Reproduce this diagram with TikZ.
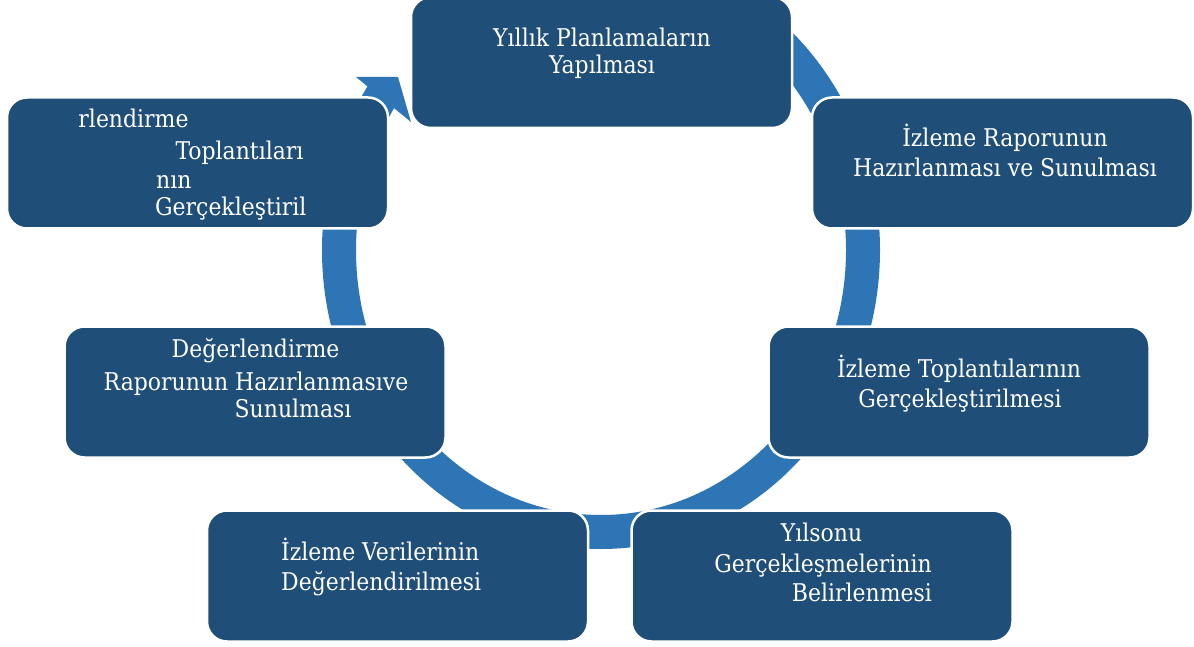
\documentclass[tikz,border=0pt]{standalone}
\usepackage{fontspec}
\setmainfont{DejaVu Serif Condensed}
\definecolor{boxblue}{HTML}{1F4E79}
\definecolor{ringblue}{HTML}{2E75B6}
\begin{document}
\begin{tikzpicture}[x=1pt,y=-1pt,
  stepbox/.style={draw=white, line width=2.5pt, fill=boxblue, rounded corners=20pt,
    minimum width=381pt, minimum height=131pt, inner sep=0pt, outer sep=0pt},
  lbl/.style={text=white, font=\fontsize{24.4}{29}\selectfont, inner sep=0pt, anchor=base},
]
\useasboundingbox (0,0) rectangle (1194,647);
\fill[white] (0,0) rectangle (1194,647);
\begin{scope}
\clip (0,0) rectangle (1194,647);
% cycle ring and arrowhead
\draw[ringblue, line width=34pt] (601,250) ++(-90:262 and 282)
  arc[start angle=-90, end angle=213.5, x radius=262, y radius=282];
\fill[ringblue] (356,77) -- (398,77) -- (411,122) -- cycle;
% boxes
\node[stepbox] (b1) at (601.5,62.5) {};
\node[stepbox] (b2) at (1002.5,163) {};
\node[stepbox] (b3) at (959,392) {};
\node[stepbox] (b4) at (822,576) {};
\node[stepbox] (b5) at (397.5,576) {};
\node[stepbox] (b6) at (255,392) {};
\node[stepbox] (b7) at (197.5,163) {};
\end{scope}
% texts
\node[lbl] (t1a) at (602,47) {Yıllık Planlamaların};
\node[lbl] (t1b) at (602,74) {Yapılması};
\node[lbl] (t2a) at (1005,147) {İzleme Raporunun};
\node[lbl] (t2b) at (1005,177) {Hazırlanması ve Sunulması};
\node[lbl] (t3a) at (959,377) {İzleme Toplantılarının};
\node[lbl] (t3b) at (960,407) {Gerçekleştirilmesi};
\node[lbl] (t4a) at (821.5,541) {Yılsonu};
\node[lbl] (t4b) at (823,572) {Gerçekleşmelerinin};
\node[lbl, anchor=base east] (t4c) at (932,601) {Belirlenmesi};
\node[lbl, anchor=base west] (t5a) at (281,560) {İzleme Verilerinin};
\node[lbl, anchor=base west] (t5b) at (281,590) {Değerlendirilmesi};
\node[lbl] (t6a) at (255.5,357) {Değerlendirme};
\node[lbl] (t6b) at (256,390) {Raporunun Hazırlanmasıve};
\node[lbl] (t6c) at (293,417) {Sunulması};
\node[lbl] (t7a) at (133.5,128) {rlendirme};
\node[lbl] (t7b) at (239.5,160) {Toplantıları};
\node[lbl, anchor=base west] (t7c) at (156,189) {nın};
\node[lbl, anchor=base west] (t7d) at (155,215) {Gerçekleştiril};
\end{tikzpicture}
\end{document}
